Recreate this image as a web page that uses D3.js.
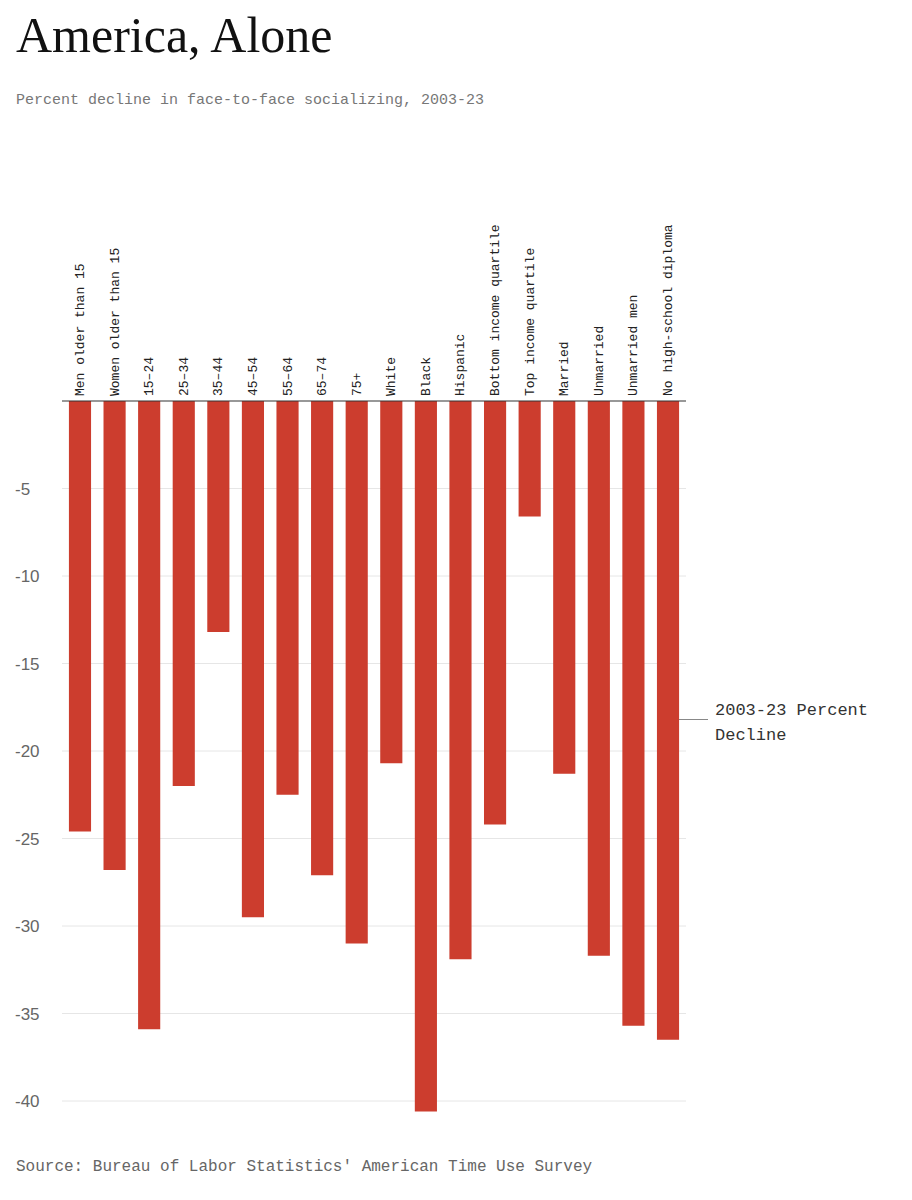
<!DOCTYPE html>
<html><head><meta charset="utf-8">
<script src="https://cdn.jsdelivr.net/npm/d3@7"></script>
<style>body{margin:0;background:#fff}</style>
</head><body>
<svg id="c" width="912" height="1200"></svg>
<script>
const categories = ["Men older than 15","Women older than 15","15–24","25–34","35–44","45–54","55–64","65–74","75+","White","Black","Hispanic","Bottom income quartile","Top income quartile","Married","Unmarried","Unmarried men","No high-school diploma"];
const values = [-24.6,-26.8,-35.9,-22.0,-13.2,-29.5,-22.5,-27.1,-31.0,-20.7,-40.6,-31.9,-24.2,-6.6,-21.3,-31.7,-35.7,-36.5];
const ticks = [-5,-10,-15,-20,-25,-30,-35,-40];

const svg = d3.select("#c");
const mono = "'Liberation Mono','DejaVu Sans Mono',monospace";
const y = d3.scaleLinear().domain([0,-40]).range([401,1101]);
const x = d3.scaleBand().domain(categories).range([62,686]).paddingInner(0.36).paddingOuter(0.2);

svg.append("text").attr("x",16).attr("y",52).attr("font-family","'Liberation Serif',serif")
  .attr("font-size",50).attr("fill","#111").text("America, Alone");
svg.append("text").attr("x",16).attr("y",104).attr("font-family",mono).attr("font-size",15)
  .attr("fill","#777").text("Percent decline in face-to-face socializing, 2003-23");

const g = svg.append("g");
ticks.forEach(t=>{
  g.append("line").attr("x1",62).attr("x2",686).attr("y1",y(t)).attr("y2",y(t)).attr("stroke","#e6e6e6");
  g.append("text").attr("x",15).attr("y",y(t)+6).attr("font-family","'Liberation Sans',Arial,sans-serif")
    .attr("font-size",17).attr("fill","#666").text(t);
});
g.selectAll("rect").data(values).join("rect")
  .attr("x",(d,i)=>x(categories[i])).attr("width",x.bandwidth())
  .attr("y",y(0)).attr("height",d=>y(d)-y(0)).attr("fill","#cc3d2e");
g.append("line").attr("x1",62).attr("x2",686).attr("y1",y(0)).attr("y2",y(0)).attr("stroke","#333").attr("stroke-width",1.2);
g.selectAll("text.cat").data(categories).join("text").attr("class","cat")
  .attr("transform",d=>`translate(${x(d)+x.bandwidth()/2+4},${y(0)-5}) rotate(-90)`)
  .attr("font-family",mono).attr("font-size",13).attr("fill","#222").text(d=>d);

const ay = y(-18.2);
svg.append("line").attr("x1",679).attr("x2",708).attr("y1",ay).attr("y2",ay).attr("stroke","#888");
svg.append("text").attr("x",715).attr("y",ay-5).attr("font-family",mono).attr("font-size",17).attr("fill","#333").text("2003-23 Percent");
svg.append("text").attr("x",715).attr("y",ay+20).attr("font-family",mono).attr("font-size",17).attr("fill","#333").text("Decline");

svg.append("text").attr("x",16).attr("y",1171).attr("font-family",mono).attr("font-size",16)
  .attr("fill","#666").text("Source: Bureau of Labor Statistics' American Time Use Survey");
</script>
</body></html>
